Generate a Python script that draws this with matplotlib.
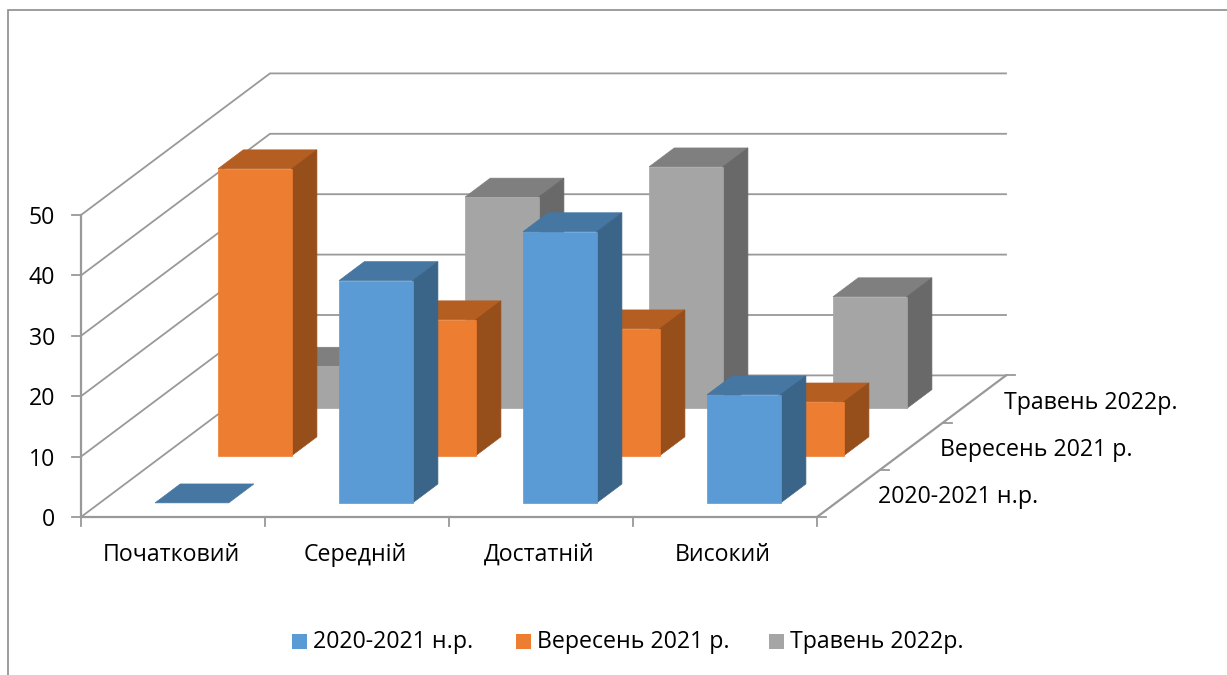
#!/usr/bin/env python
# plot.py
# Excel style 3D column chart drawn on a flat axes with an oblique projection
import matplotlib
matplotlib.use("Agg")
import matplotlib.pyplot as plt
from matplotlib.patches import Polygon, Rectangle

plt.rcParams['font.family'] = ['Open Sans', 'DejaVu Sans']

categories = ["Початковий", "Середній", "Достатній", "Високий"]
series_names = ["2020-2021 н.р.", "Вересень 2021 р.", "Травень 2022р."]
series_values = [
    [0, 36.8, 44.9, 17.9],
    [47.5, 22.5, 21, 8.9],
    [7, 35, 40, 18.5],
]
value_ticks = [0, 10, 20, 30, 40, 50]

front_colors = ["#5B9BD5", "#ED7D31", "#A5A5A5"]
top_colors = ["#4676A2", "#B45F21", "#7F7F7F"]
side_colors = ["#3B6489", "#964E1B", "#696969"]
line_color = "#999999"
text_size = 16.7


def project(cat, value, depth):
    """
    Oblique projection of category, value and series depth to picture pixels
    """
    x = 81 + 184 * cat + 63 * depth
    y = 517 - 6.04 * value - 47.2 * depth
    return x, y


def draw_bar(ax, cat, depth, value, color_index):
    """
    Draws one column as front, top and side faces
    """
    x0, x1 = cat + 0.3, cat + 0.7
    d0, d1 = depth + 0.3, depth + 0.7
    faces = [
        ([(x0, value, d0), (x1, value, d0), (x1, value, d1), (x0, value, d1)], top_colors),
    ]
    if value > 0:
        faces.append(([(x1, 0, d0), (x1, 0, d1), (x1, value, d1), (x1, value, d0)], side_colors))
        faces.append(([(x0, 0, d0), (x1, 0, d0), (x1, value, d0), (x0, value, d0)], front_colors))
    for corners, colors in faces:
        points = [project(*corner) for corner in corners]
        color = colors[color_index]
        ax.add_patch(Polygon(points, closed=True, facecolor=color, edgecolor=color,
                             linewidth=0.5, zorder=3))


def draw_walls(ax):
    """
    Draws gridlines on the left and back walls, the floor and all the ticks
    """
    n_cat = len(categories)
    n_depth = len(series_names)
    for value in value_ticks:
        xs, ys = zip(project(0, value, 0), project(0, value, n_depth), project(n_cat, value, n_depth))
        ax.plot(xs, ys, color=line_color, linewidth=1.3, solid_joinstyle="miter", zorder=1)
        x, y = project(0, value, 0)
        ax.plot([x - 9, x], [y, y], color=line_color, linewidth=1.3, zorder=1)
        ax.text(x - 26, y + 9, str(value), ha="right", va="baseline", fontsize=text_size)

    xs, ys = zip(project(0, 0, 0), project(0, value_ticks[-1], 0))
    ax.plot(xs, ys, color=line_color, linewidth=1.6, zorder=1)
    xs, ys = zip(project(0, 0, 0), project(n_cat, 0, 0), project(n_cat, 0, n_depth))
    ax.plot(xs, ys, color=line_color, linewidth=1.6, solid_joinstyle="miter", zorder=1)

    for cat in range(n_cat + 1):
        x, y = project(cat, 0, 0)
        ax.plot([x, x], [y, y + 9], color=line_color, linewidth=1.3, zorder=1)
    for depth in range(n_depth + 1):
        x, y = project(n_cat, 0, depth)
        ax.plot([x, x + 9], [y, y], color=line_color, linewidth=1.3, zorder=1)


def main():
    fig = plt.figure(figsize=(12.27, 6.75), dpi=100)
    ax = fig.add_axes([0, 0, 1, 1])
    ax.set_xlim(0, 1227)
    ax.set_ylim(675, 0)
    ax.axis("off")

    # chart area border, only the top and left edges are in the picture
    ax.plot([8, 8, 1227], [675, 10, 10], color="#8C8C8C", linewidth=1.2, solid_joinstyle="miter")

    draw_walls(ax)

    # back series first so the front ones cover them
    for depth in reversed(range(len(series_names))):
        for cat, value in enumerate(series_values[depth]):
            draw_bar(ax, cat, depth, value, depth)

    for cat, name in enumerate(categories):
        x, y = project(cat + 0.5, 0, 0)
        ax.text(x - 2, 561, name, ha="center", va="baseline", fontsize=text_size)

    for depth, name in enumerate(series_names):
        x, y = project(len(categories), 0, depth + 0.5)
        ax.text(x + 29, y + 10, name, ha="left", va="baseline", fontsize=text_size)

    legend_x = [292, 516, 769]
    for x, name, color in zip(legend_x, series_names, front_colors):
        ax.add_patch(Rectangle((x, 634), 15, 15, facecolor=color, edgecolor="none"))
        ax.text(x + 21, 648, name, ha="left", va="baseline", fontsize=text_size)

    fig.savefig("out.png", dpi=100)


if __name__ == '__main__':
    main()
